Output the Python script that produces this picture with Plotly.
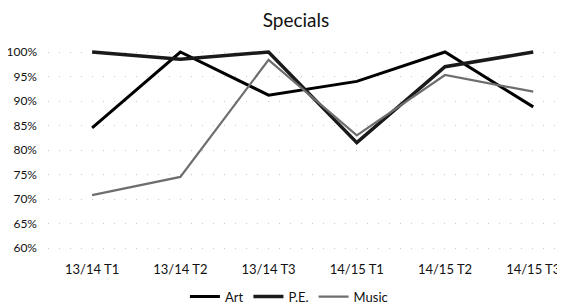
import plotly.graph_objects as go

categories = ["13/14 T1", "13/14 T2", "13/14 T3", "14/15 T1", "14/15 T2", "14/15 T3"]
art = [0.845, 1.00, 0.912, 0.94, 1.00, 0.888]
pe = [1.00, 0.985, 1.00, 0.815, 0.97, 1.00]
music = [0.708, 0.745, 0.984, 0.83, 0.953, 0.919]
y_ticks = [0.60, 0.65, 0.70, 0.75, 0.80, 0.85, 0.90, 0.95, 1.00]

font = "Lato, 'Open Sans', sans-serif"

W, H = 557, 299  # page body has an 8px margin

fig = go.Figure()
fig.add_trace(go.Scatter(x=categories, y=art, name="Art", mode="lines",
                         line=dict(color="#000000", width=3)))
fig.add_trace(go.Scatter(x=categories, y=pe, name="P.E.", mode="lines",
                         line=dict(color="#1a1a1a", width=3.5)))
fig.add_trace(go.Scatter(x=categories, y=music, name="Music", mode="lines",
                         line=dict(color="#6e6e6e", width=2.2)))

fig.update_layout(
    width=W, height=H,
    margin=dict(l=40, r=0, t=40, b=55, autoexpand=False),
    paper_bgcolor="white", plot_bgcolor="white",
    font=dict(family=font, size=11, color="#111"),
    title=dict(text="Specials", xref="container", x=288 / W, xanchor="center",
               yref="container", y=1 - 12 / H, yanchor="middle",
               font=dict(size=19, color="#111", family=font)),
    showlegend=True,
    legend=dict(orientation="h", x=0.466, xanchor="center", y=-0.145, yanchor="top",
                font=dict(size=13, color="#111"), itemwidth=30, tracegroupgap=0,
                bgcolor="rgba(0,0,0,0)"),
    xaxis=dict(type="category", range=[-0.5, 5.36], showgrid=False, zeroline=False,
               showline=False, ticks="outside", ticklen=5, tickcolor="white",
               tickfont=dict(size=13, color="#111"), automargin=False),
    yaxis=dict(range=[0.6 - 4/490, 1.0 + 4/490], tickvals=y_ticks, tickformat=".0%",
               showgrid=True, gridcolor="#c8c8c8", griddash="1px,10px", gridwidth=1,
               zeroline=False, showline=False, ticklabelstandoff=10,
               tickfont=dict(size=12, color="#111"), automargin=False),
)

fig.write_html("out.html")
